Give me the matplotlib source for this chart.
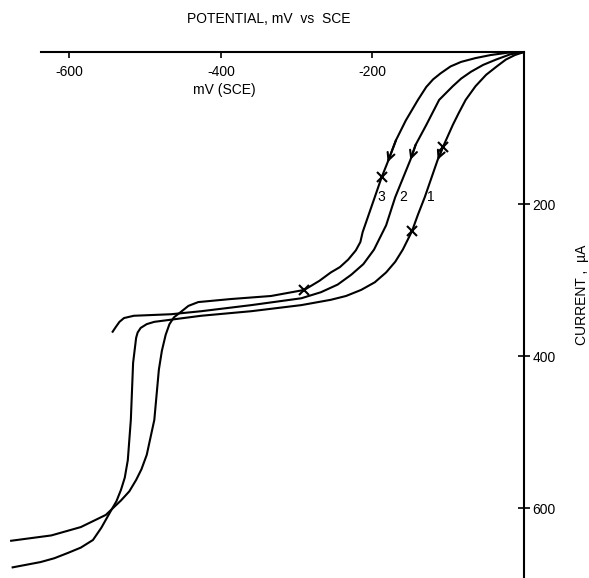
import matplotlib
matplotlib.use("Agg")
import matplotlib.pyplot as plt
from matplotlib import font_manager

# pick a narrow sans if we have it
names = {f.name for f in font_manager.fontManager.ttflist}
fam = 'Liberation Sans Narrow' if 'Liberation Sans Narrow' in names else 'Liberation Sans'
plt.rcParams['font.family'] = [fam, 'DejaVu Sans']

# potential (mV vs SCE) and current (uA), curves 1..3
pot1 = [0, -12, -24, -36, -50, -64, -77, -86, -94, -107, -114, -131, -140, -148, -160, -170,
        -182, -197, -215, -235, -255, -294, -360, -426, -488, -498, -506, -510, -512, -516,
        -519, -523, -527, -532, -538, -545, -558, -569, -585, -602, -620, -638, -675]
cur1 = [0, 4, 10, 19, 30, 45, 63, 80, 96, 125, 142, 191, 214, 236, 260, 276,
        290, 303, 313, 321, 326, 333, 341, 347, 355, 358, 363, 369, 376, 409,
        484, 537, 560, 576, 591, 603, 626, 642, 652, 659, 666, 671, 678]

pot2 = [0, -18, -37, -54, -70, -83, -94, -112, -129, -143, -150, -170, -182, -198, -212,
        -228, -246, -268, -294, -360, -426, -466, -515, -528, -534, -539, -543]
cur2 = [0, 3, 10, 17, 26, 35, 45, 63, 96, 122, 142, 191, 228, 260, 279,
        293, 306, 316, 324, 333, 341, 345, 347, 350, 355, 362, 368]

pot3 = [0, -22, -44, -64, -83, -97, -110, -120, -129, -140, -156, -169, -180, -188, -197,
        -213, -216, -222, -232, -243, -255, -270, -290, -334, -387, -430, -443, -453, -462,
        -468, -473, -478, -482, -488, -498, -505, -512, -521, -532, -552, -585, -624, -677]
cur3 = [0, 1, 4, 8, 13, 19, 28, 36, 46, 63, 90, 116, 145, 165, 191,
        237, 250, 261, 273, 283, 290, 301, 313, 321, 325, 329, 334, 342, 349,
        358, 372, 393, 418, 484, 530, 549, 563, 578, 590, 609, 625, 636, 643]

# cross marks
cross_pot = [-107, -148, -188, -290]
cross_cur = [125, 236, 165, 313]

# arrow heads (tip) and a point just before them on the curve
arrow_tip = [(-114, 142), (-150, 142), (-180, 145)]
arrow_from = [(-107, 125), (-143, 122), (-169, 116)]

curve_labels = ['1', '2', '3']
label_pot = [-123, -160, -189]
label_cur = [191, 191, 191]

xticks = [-600, -400, -200]
yticks = [200, 400, 600]

fig = plt.figure(figsize=(5.89, 5.78), dpi=100)
ax = fig.add_axes([0, 0, 524 / 589, 526 / 578])
ax.set_xlim(-691.7, 0)
ax.set_ylim(692, 0)

lw = 1.5
ax.plot(pot1, cur1, color='black', lw=lw)
ax.plot(pot2, cur2, color='black', lw=lw)
ax.plot(pot3, cur3, color='black', lw=lw)
ax.plot(cross_pot, cross_cur, 'x', color='black', ms=7, mew=1.5)

for tip, frm in zip(arrow_tip, arrow_from):
    ax.annotate('', xy=tip, xytext=frm,
                arrowprops=dict(arrowstyle='->', lw=1.5, mutation_scale=13,
                                shrinkA=0, shrinkB=0, color='black'))

for t, x, y in zip(curve_labels, label_pot, label_cur):
    ax.text(x, y, t, fontsize=10, ha='center', va='center')

# top axis line (does not run to the left edge)
ax.plot([-637, 0], [0, 0], color='black', lw=lw, clip_on=False)

for s in ['top', 'left', 'bottom']:
    ax.spines[s].set_visible(False)
ax.spines['right'].set_linewidth(lw)

ax.xaxis.tick_top()
ax.set_xticks(xticks)
ax.tick_params(axis='x', direction='in', length=4, width=1.2, labeltop=False)
for v in xticks:
    ax.text(v, 26, str(v), fontsize=10, ha='center', va='center')
ax.text(-395, 50, 'mV (SCE)', fontsize=10, ha='center', va='center')

ax.yaxis.tick_right()
ax.set_yticks(yticks)
ax.tick_params(axis='y', direction='inout', length=8, width=1.2, pad=2, labelsize=10)

fig.text(269 / 589, 1 - 19 / 578, 'POTENTIAL, mV  vs  SCE', fontsize=10,
         ha='center', va='center')
fig.text(582 / 589, 1 - 295 / 578, 'CURRENT ,  \u00b5A', fontsize=10,
         rotation=90, ha='center', va='center')

fig.savefig('out.png', dpi=100)
